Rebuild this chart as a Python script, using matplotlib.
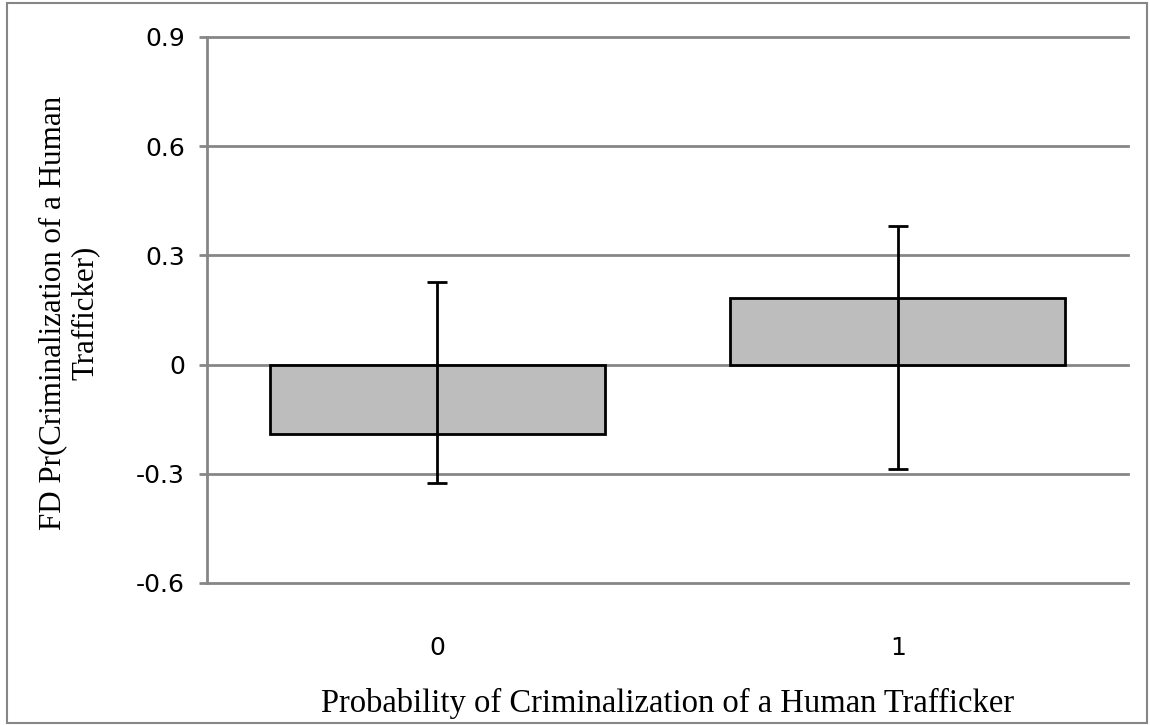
""" Recreate the first-difference bar chart with error bars. """

import matplotlib.pyplot as plt
from matplotlib.patches import Rectangle

# Data.
categories = ['0', '1']
fd_values = [-0.192, 0.183]
err_upper = [0.228, 0.381]     # top of each error bar
err_lower = [-0.325, -0.286]   # bottom of each error bar
y_ticks = [-0.6, -0.3, 0, 0.3, 0.6, 0.9]
y_tick_labels = ['-0.6', '-0.3', '0', '0.3', '0.6', '0.9']

fig = plt.figure( figsize=( 11.5, 7.25 ), dpi=100 )
ax = fig.add_axes( [ 0.18, 0.196, 0.801, 0.753 ] )

# Light gray frame around the whole chart, like an Excel chart area.
fig.patches.append( Rectangle( ( 0.006, 0.003 ), 0.991, 0.993,
                               transform=fig.transFigure, fill=False,
                               edgecolor='#868686', linewidth=1.5 ) )

# Horizontal gridlines behind the bars (not clipped at the axes edges).
grid_color = '#868686'
for y in y_ticks:
    ax.axhline( y, color=grid_color, linewidth=2, zorder=0, clip_on=False )

x = range( len( categories ) )
yerr = [ [ v - lo for v, lo in zip( fd_values, err_lower ) ],
         [ hi - v for v, hi in zip( fd_values, err_upper ) ] ]
ax.bar( x, fd_values, width=0.727, color='#BDBDBD', edgecolor='black',
        linewidth=2, zorder=2 )
ax.errorbar( x, fd_values, yerr=yerr, fmt='none', ecolor='black',
             elinewidth=2, capsize=7, capthick=2, zorder=3 )

ax.set_xlim( -0.5, 1.5 )
ax.set_ylim( -0.6, 0.9 )

ax.set_yticks( y_ticks )
ax.set_yticklabels( y_tick_labels, fontsize=18, family='DejaVu Sans' )
ax.tick_params( axis='y', direction='out', length=6, width=2,
                color=grid_color, pad=10 )
ax.set_xticks( list( x ) )
ax.set_xticklabels( categories, fontsize=18, family='DejaVu Sans' )
ax.tick_params( axis='x', length=0, pad=38 )

for side in [ 'top', 'right', 'bottom' ]:
    ax.spines[ side ].set_visible( False )
ax.spines[ 'left' ].set_color( grid_color )
ax.spines[ 'left' ].set_linewidth( 2 )

ax.set_xlabel( 'Probability of Criminalization of a Human Trafficker',
               fontsize=23.5, family='Liberation Serif', labelpad=20 )
ax.set_ylabel( 'FD Pr(Criminalization of a Human\nTrafficker)',
               fontsize=22.3, family='Liberation Serif', linespacing=1.15 )
ax.yaxis.set_label_coords( -0.117, 0.495 )

fig.savefig( 'out.png', dpi=100 )
